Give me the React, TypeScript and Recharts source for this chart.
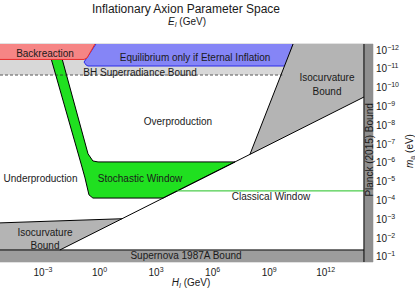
import React from 'react';
import { ComposedChart, Scatter, XAxis, YAxis, ReferenceDot } from 'recharts';

// x = log10(H_I / GeV), y = log10(m_a / eV)
const X_MIN = -5.28;
const X_MAX = 14.51;
const Y_TOP = -12.32;
const Y_BOT = -0.73;
const E_MIN = 6.6;
const E_MAX = 16.52;
const PLANCK_H = 14.03;

const hTicks = [-3, 0, 3, 6, 9, 12];
const eTicks = [7, 8, 9, 10, 11, 12, 13, 14, 15, 16];
const mTicks = [-12, -11, -10, -9, -8, -7, -6, -5, -4, -3, -2, -1];

type Pt = [number, number];

const bhSuperradiance: Pt[] = [[X_MIN, Y_TOP], [10.6, Y_TOP], [10.0, -10.67], [X_MIN, -10.67]];
const superradianceEdge: Pt[] = [[X_MIN, -10.67], [9.7, -10.67]];
const stochasticWindow: Pt[] = [
  [-2.79, Y_TOP], [-2.2, Y_TOP], [-0.61, -6.48], [-0.35, -6.1], [-0.08, -6.05], [7.19, -6.05],
  [3.37, -4.13], [-0.35, -4.13], [-0.56, -4.3], [-0.77, -5.2], [-0.93, -5.78], [-2.79, Y_TOP],
];
const eternalInflation: Pt[] = [
  [-0.19, Y_TOP], [-0.82, -11.36], [-0.71, -11.2], [-0.61, -11.15], [9.84, -11.15], [10.0, -11.47], [10.27, Y_TOP],
];
const backreaction: Pt[] = [[X_MIN, Y_TOP], [-0.24, Y_TOP], [-0.66, -11.58], [-0.82, -11.5], [X_MIN, -11.5]];
const backreactionEdge: Pt[] = [[-0.24, Y_TOP], [-0.66, -11.58], [-0.82, -11.5], [X_MIN, -11.5]];
const isocurvatureHigh: Pt[] = [[10.27, Y_TOP], [PLANCK_H, Y_TOP], [PLANCK_H, -9.5], [7.98, -6.45]];
const isoHighEdge: Pt[] = [[7.98, -6.45], [10.27, Y_TOP]];
const isocurvatureLow: Pt[] = [[X_MIN, -2.81], [1.19, -3.03], [-2.1, -1.37], [X_MIN, -1.37]];
const isoLowEdge: Pt[] = [[X_MIN, -2.81], [1.19, -3.03]];
const supernova: Pt[] = [[X_MIN, -1.37], [PLANCK_H, -1.37], [PLANCK_H, Y_BOT], [X_MIN, Y_BOT]];
const supernovaEdge: Pt[] = [[X_MIN, -1.37], [PLANCK_H, -1.37]];
const planck: Pt[] = [[PLANCK_H, Y_TOP], [X_MAX, Y_TOP], [X_MAX, Y_BOT], [PLANCK_H, Y_BOT]];
const planckEdge: Pt[] = [[PLANCK_H, Y_TOP], [PLANCK_H, Y_BOT]];
const diagonal: Pt[] = [[PLANCK_H, -9.5], [-2.1, -1.37]];
const classicalWindow: Pt[] = [[4.11, -4.51], [PLANCK_H, -4.51]];

const regionLabels = [
  { text: 'Backreaction', x: -2.89, y: -11.84 },
  { text: 'Equilibrium only if Eternal Inflation', x: 5.07, y: -11.6 },
  { text: 'BH Superradiance Bound', x: 2.15, y: -10.83 },
  { text: 'Isocurvature', x: 12.07, y: -10.54 },
  { text: 'Bound', x: 12.07, y: -9.82 },
  { text: 'Overproduction', x: 4.16, y: -8.18 },
  { text: 'Underproduction', x: -3.13, y: -5.15 },
  { text: 'Stochastic Window', x: 2.15, y: -5.15 },
  { text: 'Classical Window', x: 9.1, y: -4.19 },
  { text: 'Isocurvature', x: -2.89, y: -2.3 },
  { text: 'Bound', x: -2.89, y: -1.59 },
  { text: 'Supernova 1987A Bound', x: 4.59, y: -1.06 },
];

const TEXT = '#1a1a1a';
const FRAME = '#c4c4c4';

const pts = (a: Pt[]) => a.map(([x, y]) => ({ x, y }));
const NoDot = () => <g />;
const pow = (v: number) => (v < 0 ? '\u2212' + Math.abs(v) : String(v));

const fillRegion = (key: string, a: Pt[], fill: string) => (
  <Scatter
    key={key}
    xAxisId="h"
    yAxisId="m"
    data={pts([...a, a[0]])}
    line={{ fill, stroke: 'none' }}
    shape={NoDot}
    isAnimationActive={false}
  />
);

const edge = (key: string, a: Pt[], stroke: string, width = 1, dash?: string) => (
  <Scatter
    key={key}
    xAxisId="h"
    yAxisId="m"
    data={pts(a)}
    line={{ fill: 'none', stroke, strokeWidth: width, strokeDasharray: dash, strokeLinejoin: 'round' }}
    shape={NoDot}
    isAnimationActive={false}
  />
);

const BottomTick = ({ x, y, payload }: any) => (
  <text x={x} y={y + 14} textAnchor="middle" fontSize={10} fill={TEXT}>
    10<tspan dy={-4} fontSize={7}>{pow(payload.value)}</tspan>
  </text>
);

const TopTick = ({ x, y, payload }: any) => (
  <text x={x} y={y - 5} textAnchor="middle" fontSize={10} fill={TEXT}>
    10<tspan dy={-4} fontSize={7}>{pow(payload.value)}</tspan>
  </text>
);

const RightTick = ({ x, y, payload }: any) => (
  <text x={x + 3} y={y + 3.5} textAnchor="start" fontSize={10} fill={TEXT}>
    10<tspan dy={-4} fontSize={7}>{pow(payload.value)}</tspan>
  </text>
);

const TopTitle = () => (
  <g>
    <text x={186} y={12.5} textAnchor="middle" fontSize={12} fill={TEXT}>
      Inflationary Axion Parameter Space
    </text>
    <text x={187} y={25} textAnchor="middle" fontSize={10} fill={TEXT}>
      <tspan fontStyle="italic">E</tspan>
      <tspan fontStyle="italic" fontSize={7} dy={2}>I</tspan>
      <tspan dy={-2}> (GeV)</tspan>
    </text>
  </g>
);

const BottomTitle = () => (
  <text x={191} y={286} textAnchor="middle" fontSize={10} fill={TEXT}>
    <tspan fontStyle="italic">H</tspan>
    <tspan fontStyle="italic" fontSize={7} dy={2}>I</tspan>
    <tspan dy={-2}> (GeV)</tspan>
  </text>
);

const RightTitle = () => (
  <text x={413} y={151} transform="rotate(-90 413 151)" textAnchor="middle" fontSize={10} fill={TEXT}>
    <tspan fontStyle="italic">m</tspan>
    <tspan fontSize={7} dy={2}>a</tspan>
    <tspan dy={-2}> (eV)</tspan>
  </text>
);

export default function App() {
  return (
    <div
      style={{
        position: 'fixed',
        left: 0,
        top: 0,
        width: 415,
        height: 291,
        background: '#fff',
        fontFamily: '"Liberation Sans", Arial, sans-serif',
      }}
    >
      <ComposedChart width={415} height={291} margin={{ top: 0, right: 0, bottom: 0, left: 0 }}>
        <XAxis
          xAxisId="h"
          dataKey="x"
          type="number"
          domain={[X_MIN, X_MAX]}
          allowDataOverflow
          ticks={hTicks}
          interval={0}
          height={29}
          tickSize={0}
          tickMargin={0}
          tickLine={false}
          axisLine={{ stroke: FRAME }}
          tick={BottomTick}
          label={<BottomTitle />}
        />
        <XAxis
          xAxisId="e"
          orientation="top"
          type="number"
          domain={[E_MIN, E_MAX]}
          allowDataOverflow
          ticks={eTicks}
          interval={0}
          height={44}
          tickSize={0}
          tickMargin={0}
          tickLine={false}
          axisLine={{ stroke: FRAME }}
          tick={TopTick}
          label={<TopTitle />}
        />
        <YAxis
          yAxisId="m"
          orientation="right"
          dataKey="y"
          type="number"
          domain={[Y_TOP, Y_BOT]}
          reversed
          allowDataOverflow
          ticks={mTicks}
          interval={0}
          width={42}
          tickSize={0}
          tickMargin={0}
          tickLine={false}
          axisLine={{ stroke: FRAME }}
          tick={RightTick}
          label={<RightTitle />}
        />

        {fillRegion('bh', bhSuperradiance, '#d8d8d8')}
        {fillRegion('stoch', stochasticWindow, '#20e020')}
        {edge('stochEdge', stochasticWindow, '#000')}
        {fillRegion('eternal', eternalInflation, '#8585f6')}
        {edge('eternalEdge', eternalInflation, '#2a2ae8')}
        {fillRegion('back', backreaction, '#f68585')}
        {edge('backEdge', backreactionEdge, '#e82a2a')}
        {fillRegion('isoHigh', isocurvatureHigh, '#b4b4b4')}
        {fillRegion('isoLow', isocurvatureLow, '#b4b4b4')}
        {fillRegion('sn', supernova, '#9c9c9c')}
        {fillRegion('planck', planck, '#8f8f8f')}

        {edge('bhEdge', superradianceEdge, '#333', 0.8, '3 2')}
        {edge('isoHighEdge', isoHighEdge, '#000')}
        {edge('isoLowEdge', isoLowEdge, '#000')}
        {edge('snEdge', supernovaEdge, '#000')}
        {edge('diag', diagonal, '#000')}
        {edge('classical', classicalWindow, '#20c020')}
        {edge('planckEdge', planckEdge, '#000')}

        {regionLabels.map((l, i) => (
          <ReferenceDot
            key={'lab' + i}
            xAxisId="h"
            yAxisId="m"
            x={l.x}
            y={l.y}
            r={0}
            fill="none"
            stroke="none"
            label={{ value: l.text, position: 'center', fill: TEXT, fontSize: 10 }}
          />
        ))}
        <ReferenceDot
          xAxisId="h"
          yAxisId="m"
          x={14.3}
          y={-6.69}
          r={0}
          fill="none"
          stroke="none"
          label={{ value: 'Planck (2015) Bound', position: 'center', angle: -90, fill: TEXT, fontSize: 10 }}
        />
      </ComposedChart>
    </div>
  );
}
